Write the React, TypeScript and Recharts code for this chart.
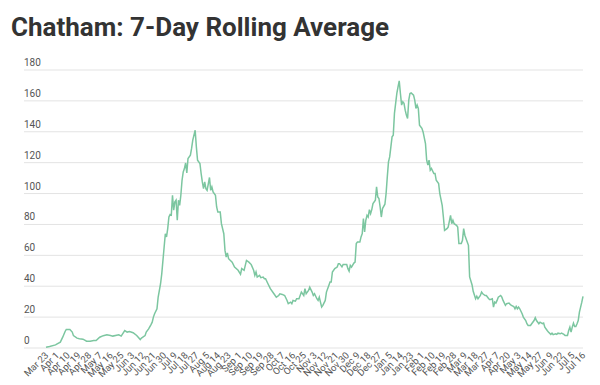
import { LineChart, Line, XAxis, YAxis, CartesianGrid } from 'recharts';

// x labels, one every 9 rows of the source table
const tickLabels = [
  'Mar 23', 'Apr 1', 'Apr 10', 'Apr 19', 'Apr 28', 'May 7', 'May 16', 'May 25', 'Jun 3', 'Jun 12',
  'Jun 21', 'Jun 30', 'Jul 9', 'Jul 18', 'Jul 27', 'Aug 5', 'Aug 14', 'Aug 23', 'Sep 1', 'Sep 10',
  'Sep 19', 'Sep 28', 'Oct 7', 'Oct 16', 'Oct 25', 'Nov 3', 'Nov 12', 'Nov 21', 'Nov 30', 'Dec 9',
  'Dec 18', 'Dec 27', 'Jan 5', 'Jan 14', 'Jan 23', 'Feb 1', 'Feb 10', 'Feb 19', 'Feb 28', 'Mar 9',
  'Mar 18', 'Mar 27', 'Apr 7', 'Apr 20', 'May 3', 'May 14', 'May 27', 'Jun 9', 'Jun 22', 'Jul 5',
  'Jul 16',
];

const yTicks = [0, 20, 40, 60, 80, 100, 120, 140, 160, 180];

// row index in the table (0 = Mar 23)
const days = [
  0, 3, 8, 9, 12, 14, 16, 17, 20, 22, 23, 26, 28, 31, 34, 37, 40, 42, 45, 48,
  51, 54, 56, 61, 63, 66, 68, 70, 73, 76, 79, 80, 83, 84, 86, 88, 89, 90, 91, 93,
  94, 96, 97, 98, 99, 100, 101, 102, 103, 104, 105, 106, 107, 108, 109, 110, 111, 112, 113, 114,
  115, 116, 117, 118, 119, 121, 122, 123, 125, 126, 127, 129, 130, 131, 132, 133, 134, 135, 137, 138,
  139, 140, 142, 143, 144, 146, 147, 149, 150, 151, 152, 153, 156, 158, 161, 163, 164, 166, 168, 170,
  172, 174, 175, 176, 177, 179, 180, 182, 183, 184, 186, 188, 191, 193, 195, 196, 198, 200, 202, 203,
  205, 206, 207, 209, 210, 212, 214, 216, 217, 218, 220, 221, 223, 224, 225, 227, 228, 229, 230, 231,
  232, 234, 235, 237, 238, 239, 240, 242, 244, 245, 246, 248, 249, 252, 253, 254, 255, 256, 258, 259,
  260, 261, 263, 264, 265, 266, 267, 268, 269, 270, 271, 272, 273, 274, 276, 277, 278, 279, 280, 281,
  282, 284, 285, 286, 287, 288, 289, 290, 291, 292, 293, 294, 295, 296, 297, 298, 299, 300, 301, 302,
  303, 304, 305, 306, 308, 309, 310, 311, 312, 313, 315, 316, 318, 319, 320, 321, 322, 323, 325, 326,
  327, 329, 330, 332, 333, 334, 336, 337, 339, 340, 341, 342, 344, 345, 346, 348, 349, 350, 351, 353,
  354, 355, 357, 358, 360, 361, 362, 364, 365, 366, 368, 369, 371, 372, 374, 375, 376, 377, 378, 379,
  381, 382, 383, 385, 386, 388, 389, 390, 392, 393, 394, 395, 396, 397, 399, 400, 402, 403, 404, 406,
  407, 409, 410, 411, 413, 414, 416, 417, 418, 420, 421, 423, 424, 425, 427, 428, 429, 431, 432, 434,
  435, 437, 438, 439, 440, 441, 442, 443, 444, 445, 446, 447, 448, 449, 450,
];

const avg = [
  0.5, 1, 2, 2.5, 3.8, 7, 10.7, 12, 12, 10.3, 8, 6.4, 6, 5.7, 4.4, 4.4, 4.9, 4.9, 7, 8,
  8.5, 8.1, 7.7, 8.5, 7.7, 11.3, 10.3, 10.7, 9.9, 8.1, 5.5, 6.4, 8, 10.3, 12.4, 15.2, 16.7, 20, 22.2, 25.4,
  33, 41.6, 48, 56.7, 65.4, 74, 71.9, 77.3, 84.8, 86.4, 86, 98.9, 89.2, 94.6, 95.7, 82.7, 95.7, 92.4, 98.9, 108.6,
  114, 116.2, 119.8, 113.4, 122.7, 124.8, 129.2, 134.6, 141, 130.2, 121.6, 119.5, 113, 107.5, 103.2, 107.5, 103.2, 102.1, 110.4, 102.1,
  104.3, 101, 98.9, 91.3, 88, 88, 80.5, 74, 63.2, 58.9, 61.5, 57.8, 55.6, 52.4, 50.3, 47.7, 51.4, 50.3, 56.7, 55.6,
  54, 50.3, 47, 49.2, 45.9, 47, 45.5, 45.9, 44.9, 44.9, 41.6, 38.4, 35.1, 32.9, 34, 35.1, 34.7, 34, 30.8, 28.7,
  29.7, 28.7, 30.8, 30.3, 31.9, 31.9, 36.2, 34, 38.4, 35.1, 37.3, 39.4, 36.2, 34, 35.1, 31.9, 30.8, 32.9, 29.7, 26.5,
  27.6, 30.8, 36.2, 40.5, 42.7, 42.7, 49.2, 51.4, 52.4, 54.6, 54.6, 52.5, 54.1, 54.1, 51.4, 49.8, 53.5, 52.4, 55, 55.6,
  67.6, 68.6, 68.6, 71.9, 74, 83.8, 75.1, 82.7, 85.9, 84.8, 89.6, 87, 89.6, 93.5, 95.7, 104.3, 97.8, 96.8, 91.3, 84.8,
  90.3, 93.1, 100, 110.8, 120.5, 123.7, 130.2, 136.7, 137.8, 151.9, 158.4, 164.8, 169.1, 173, 164.8, 157.3, 159.4, 158.4, 154, 150.8,
  148.6, 160.5, 164.8, 165.2, 163.7, 160.5, 155.1, 157.3, 155.1, 144.3, 142.2, 139.9, 132.4, 121.6, 118.4, 121.6, 115.1, 116.2, 113, 113,
  108.6, 106.5, 100, 92.4, 84.8, 76.2, 77.3, 78.3, 85.9, 80.5, 82.7, 80.5, 79.4, 78.3, 67.6, 67.6, 69.7, 77.3, 73, 68.6,
  66.5, 46, 41, 36.7, 31.9, 33.5, 31.9, 34, 36.2, 35.1, 34, 34, 31.9, 31.3, 31.9, 26.5, 29.7, 29.1, 30.8, 32.9,
  34, 32.9, 30.8, 27.6, 28.7, 29.1, 28.2, 27.6, 26.9, 25.4, 26.9, 25.4, 26.5, 25.4, 22.2, 20, 17.8, 15.7, 14.6, 14.6,
  15.7, 17.8, 19.6, 17.8, 15.7, 16.7, 15.7, 16.1, 13.5, 11.3, 10.3, 8.8, 9.6, 8.6, 9.2, 8.8, 9.6, 9.2, 9.6, 8.8,
  8.1, 8.1, 11.3, 13.5, 10.3, 13.5, 16.1, 13.9, 13.9, 15.7, 17.8, 23.2, 26.5, 29.7, 33.4,
];

const data = days.map((d, i) => ({ day: d, avg: avg[i] }));
const xTicks = tickLabels.map((_, i) => i * 9);

const FONT = 'Roboto, "Noto Sans", sans-serif';

const renderXTick = (props: any) => {
  const { x, payload } = props;
  const label = tickLabels[Math.round(payload.value / 9)];
  const ax = x + 3;
  const ay = 356;
  return (
    <text
      key={`xt-${payload.value}`}
      x={ax}
      y={ay}
      transform={`rotate(-45, ${ax}, ${ay})`}
      textAnchor="end"
      fontSize={9.5}
      fontFamily={FONT}
      fill="#555"
    >
      {label}
    </text>
  );
};

const renderYTick = (props: any) => {
  const { y, payload } = props;
  return (
    <text key={`yt-${payload.value}`} x={24} y={y - 4} textAnchor="start" fontSize={10} fontFamily={FONT} fill="#555">
      {payload.value}
    </text>
  );
};

export default function App() {
  return (
    <div style={{ position: 'absolute', left: 0, top: 0, width: 600, height: 385, background: '#fff' }}>
      <div
        style={{
          position: 'absolute',
          left: 11,
          top: 14,
          fontFamily: FONT,
          fontWeight: 700,
          fontSize: 26,
          lineHeight: '26px',
          color: '#333',
          whiteSpace: 'nowrap',
        }}
      >
        Chatham: 7-Day Rolling Average
      </div>
      <LineChart width={600} height={385} data={data} margin={{ top: 70, right: 17, bottom: 0, left: 0 }}>
        <CartesianGrid horizontal vertical={false} stroke="#e3e3e3" strokeWidth={1} />
        <XAxis
          dataKey="day"
          type="number"
          domain={[0, 450]}
          ticks={xTicks}
          interval={0}
          height={37}
          padding={{ left: 22, right: 0 }}
          axisLine={false}
          tickLine={false}
          tick={renderXTick}
        />
        <YAxis
          width={24}
          domain={[0, 180]}
          ticks={yTicks}
          interval={0}
          axisLine={false}
          tickLine={false}
          tick={renderYTick}
        />
        <Line
          type="linear"
          dataKey="avg"
          stroke="#7cc6a0"
          strokeWidth={1.5}
          dot={false}
          isAnimationActive={false}
        />
      </LineChart>
    </div>
  );
}
